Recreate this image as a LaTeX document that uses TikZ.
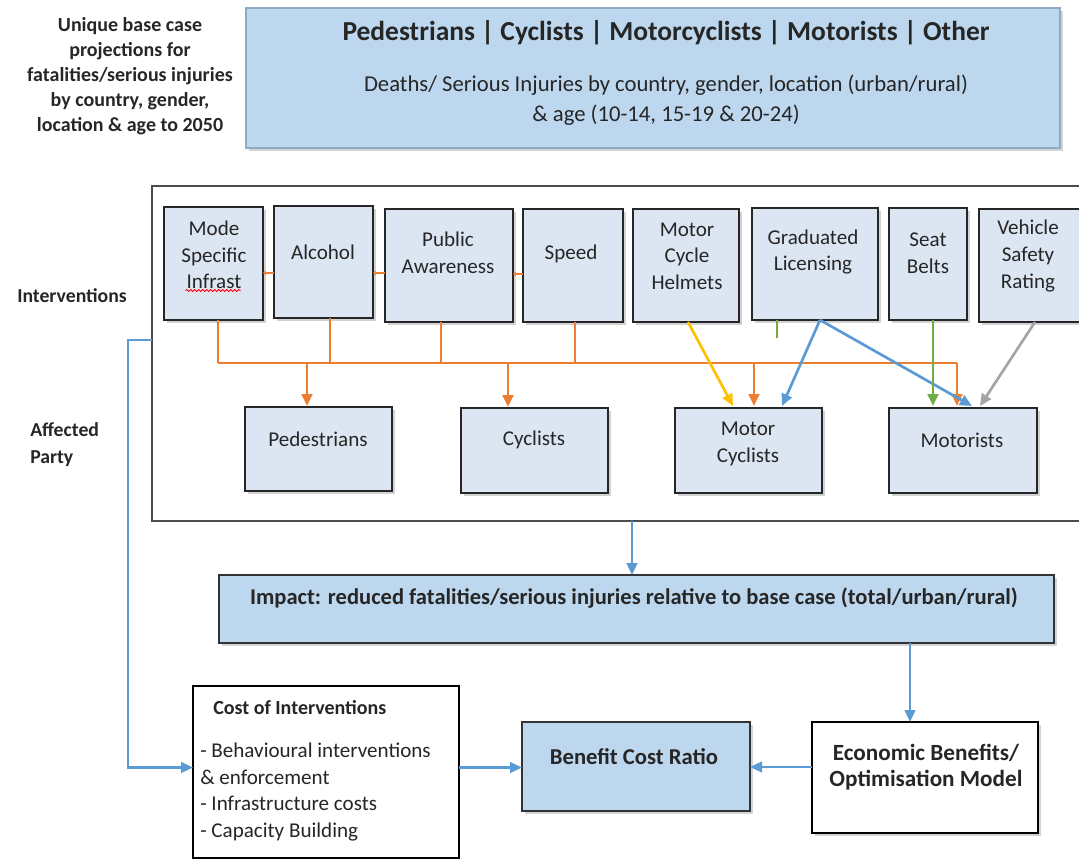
\documentclass[tikz,border=0pt]{standalone}
\usepackage{fontspec}
\setmainfont{Carlito}
\usetikzlibrary{arrows.meta,calc,shadows,decorations.pathmorphing}
\definecolor{lblue}{HTML}{BDD7EE}
\definecolor{pblue}{HTML}{DCE6F2}
\definecolor{tborder}{HTML}{8FAAC6}
\definecolor{org}{HTML}{ED7D31}
\definecolor{yel}{HTML}{FFC000}
\definecolor{blu}{HTML}{5B9BD5}
\definecolor{grn}{HTML}{70AD47}
\definecolor{gry}{HTML}{A5A5A5}
\definecolor{txt}{HTML}{262626}
\newcommand\bx[6]{\node[#2, minimum width={(#5-#3)*0.75pt}, minimum height={(#6-#4)*0.75pt}] (#1) at ({(#3+#5)/2},{(#4+#6)/2}) {};}
\tikzset{
  base/.style={draw, inner sep=0pt, outer sep=0pt, rectangle},
  shad/.style={drop shadow={shadow xshift=2.5pt, shadow yshift=-2.5pt, opacity=0.35}},
  ibox/.style={base, fill=pblue, draw=black!85, line width=1.1pt, shad},
  lbox/.style={base, fill=lblue, draw=black!80, line width=1.1pt, shad},
  topbox/.style={base, fill=lblue, draw=tborder, line width=1.2pt, shad},
  wbox/.style={base, fill=white, draw=black, line width=1.1pt},
  wboxs/.style={base, fill=white, draw=black, line width=1.1pt, shad},
  frm/.style={base, draw=black!70, line width=1.2pt, fill=white},
  itxt/.style={font=\fontsize{15.8}{20}\selectfont, text=txt, align=center, inner sep=0pt},
  lbl/.style={font=\bfseries\fontsize{14.8}{18}\selectfont, text=txt, inner sep=0pt},
  tip/.style={-{Triangle[length=9pt,width=8pt]}},
  ol/.style={draw=org, line width=2pt},
  oa/.style={ol, tip},
  ba/.style={draw=blu, line width=1.8pt, tip},
}
\begin{document}
\begin{tikzpicture}[x=0.75pt,y=-0.75pt]
\useasboundingbox (0,0) rectangle (1079,858);
% top left text
\node[lbl, font=\bfseries\fontsize{15}{18.8}\selectfont, align=center] (uniq) at (130,76) {Unique base case\\projections for\\fatalities/serious injuries\\by country, gender,\\location \& age to 2050};
% top box
\bx{top}{topbox}{246}{8}{1060}{148}
\node[font=\bfseries\fontsize{20.6}{24}\selectfont, text=txt, inner sep=0pt] (ttl) at (666,33) {Pedestrians | Cyclists | Motorcyclists | Motorists | Other};
\node[font=\fontsize{17}{22.5}\selectfont, text=txt, inner sep=0pt, align=center] (tsub) at (666,100) {Deaths/ Serious Injuries by country, gender, location (urban/rural)\\\& age (10-14, 15-19 \& 20-24)};
% frame
\bx{frame}{frm}{152}{186}{1090}{521}
% intervention boxes
\bx{mode}{ibox}{164}{207}{263}{320}
\bx{alc}{ibox}{274}{206}{373}{318}
\bx{pa}{ibox}{385}{209}{513}{322}
\bx{spd}{ibox}{523}{209}{623}{322}
\bx{helm}{ibox}{633}{209}{739}{322}
\bx{gl}{ibox}{752}{208}{878}{320}
\bx{seat}{ibox}{889}{208}{967}{320}
\bx{vsr}{ibox}{979}{209}{1085}{322}
\node[itxt] (tmode) at (214,255) {Mode\\Specific\\Infrast};
\draw[red, line width=0.6pt, decorate, decoration={snake, segment length=3pt, amplitude=0.8pt}] ($(mode.center)+(-28,27)$) -- ++(55,0);
\node[itxt] (talc) at (323,252) {Alcohol};
\node[itxt] (tpa) at (448,253) {Public\\Awareness};
\node[itxt] (tspd) at (571,254) {Speed};
\node[itxt] (thelm) at (687,256) {Motor\\Cycle\\Helmets};
\node[itxt] (tgl) at (813,252) {Graduated\\Licensing};
\node[itxt] (tseat) at (928,253) {Seat\\Belts};
\node[itxt] (tvsr) at (1028,256) {Vehicle\\Safety\\Rating};
% small connectors between top boxes
\draw[ol, line width=1.4pt, -{Triangle[length=2pt,width=3.5pt]}] ($(alc.west)+(0,11)$) coordinate (s1) -- (s1 -| mode.east);
\draw[ol, line width=1.4pt, -{Triangle[length=2pt,width=3.5pt]}] ($(pa.west)+(0,7.5)$) coordinate (s2) -- (s2 -| alc.east);
\draw[ol, line width=1.4pt, -{Triangle[length=2pt,width=3.5pt]}] ($(spd.west)+(0,8.5)$) coordinate (s3) -- (s3 -| pa.east);
% affected party boxes
\bx{ped}{ibox}{245}{407}{392}{491}
\bx{cyc}{ibox}{461}{408}{608}{493}
\bx{mc}{ibox}{675}{408}{822}{493}
\bx{mot}{ibox}{889}{408}{1037}{493}
\node[itxt] (tped) at (318,439) {Pedestrians};
\node[itxt] (tcyc) at (534,440) {Cyclists};
\node[itxt] (tmc) at (748,444) {Motor\\Cyclists};
\node[itxt] (tmot) at (962,440) {Motorists};
% orange bus
\coordinate (busL) at (218,363);
\coordinate (busR) at (957,363);
\draw[ol] ($(mode.south)+(4.5,0)$) coordinate (d1) -- (d1 |- busL);
\draw[ol] ($(alc.south)+(6.5,0)$) coordinate (d2) -- (d2 |- busL);
\draw[ol] ($(pa.south)+(-8,0)$) coordinate (d3) -- (d3 |- busL);
\draw[ol] ($(spd.south)+(2,0)$) coordinate (d4) -- (d4 |- busL);
\draw[ol] (busL) -- (busR);
\draw[oa] (busR) -- ($(mot.north)+(-6,-2)$);
\coordinate (p1) at ($(ped.north)+(-11.5,-1)$);
\coordinate (c1) at ($(cyc.north)+(-26.5,-1)$);
\coordinate (m1) at ($(mc.north)+(5.5,-2)$);
\draw[oa] (p1 |- busL) -- (p1);
\draw[oa] (c1 |- busL) -- (c1);
\draw[oa] (m1 |- busL) -- (m1);
% other coloured connectors
\draw[draw=yel, line width=2pt, tip] ($(helm.south)+(2,0)$) -- ($(mc.north)+(-15.5,-2)$);
\draw[draw=grn, line width=2pt] ($(gl.south)+(-38,0)$) -- ++(0,18);
\draw[ba, line width=2pt] ($(gl.south)+(5,0)$) -- ($(mc.north)+(33.5,-2)$);
\draw[ba, line width=2pt] ($(gl.south)+(5,0)$) -- ($(mot.north)+(9,-2)$);
\draw[draw=grn, line width=2pt, tip] ($(seat.south)+(5,0)$) -- ($(mot.north)+(-30,-2)$);
\draw[draw=gry, line width=2pt, tip] ($(vsr.south)+(3,0)$) -- ($(mot.north)+(17,-2)$);
% side labels
\node[lbl, anchor=west] (linter) at (17,296) {Interventions};
\node[lbl, anchor=north west, align=left, font=\bfseries\fontsize{14.8}{20.5}\selectfont] (laff) at (30,422) {Affected\\Party};
% impact
\bx{imp}{lbox}{219}{575}{1054}{643}
\node[font=\bfseries\fontsize{16.9}{20}\selectfont, text=txt, inner sep=0pt] (timp) at (634,598) {Impact: reduced fatalities/serious injuries relative to base case (total/urban/rural)};
% bottom boxes
\bx{cost}{wbox}{193}{686}{459}{858}
\bx{bcr}{lbox}{522}{722}{750}{811}
\bx{econ}{wboxs}{812}{722}{1038}{833}
\node[font=\bfseries\fontsize{15}{18}\selectfont, text=txt, inner sep=0pt, anchor=west] (tcost) at (213,708) {Cost of Interventions};
\node[font=\fontsize{15.8}{19.9}\selectfont, text=txt, inner sep=0pt, anchor=north west, align=left] (tcostl) at (200,743) {- Behavioural interventions\\\& enforcement\\- Infrastructure costs\\- Capacity Building};
\node[font=\bfseries\fontsize{17}{20}\selectfont, text=txt, inner sep=0pt] (tbcr) at (634,757) {Benefit Cost Ratio};
\node[font=\bfseries\fontsize{17.4}{19}\selectfont, text=txt, inner sep=0pt, align=center] (tecon) at (926,767) {Economic Benefits/\\Optimisation Model};
% blue connectors
\draw[ba] ($(frame.west)+(0,-13.5)$) -- ++(-24,0) |- ($(cost.west)+(0,-4.5)$);
\draw[ba] ($(frame.south)+(11,0)$) coordinate (f1) -- (f1 |- imp.north);
\draw[ba] ($(imp.south)+(273.5,0)$) coordinate (i1) -- (i1 |- econ.north);
\draw[ba] ($(cost.east)+(0,-4.5)$) coordinate (k1) -- (k1 -| bcr.west);
\draw[ba] ($(econ.west)+(0,-10.5)$) coordinate (e1) -- (e1 -| bcr.east);
\end{tikzpicture}
\end{document}
